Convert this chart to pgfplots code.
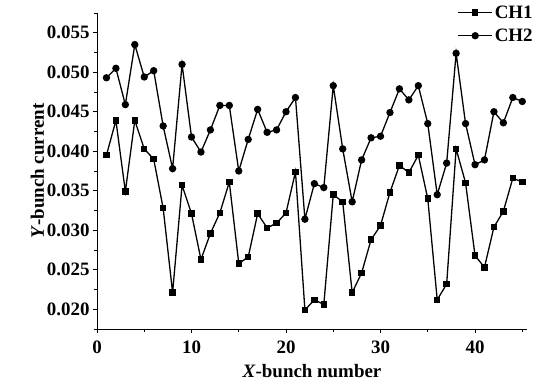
\documentclass[border=0pt]{standalone}
\usepackage{pgfplots}
\pgfplotsset{compat=1.18}
\usepackage{fontspec}
\setmainfont{Liberation Serif}
\begin{document}
\begin{tikzpicture}
\begin{axis}[
  name=ax,
  scale only axis,
  width=430bp, height=316bp,
  xmin=0, xmax=45.5,
  ymin=0.0175, ymax=0.0575,
  axis x line*=bottom, axis y line*=left,
  axis line style={-, line width=1pt},
  xtick={0,10,20,30,40},
  minor xtick={5,15,25,35,45},
  ytick={0.020,0.025,0.030,0.035,0.040,0.045,0.050,0.055},
  minor ytick={0.0175,0.0225,0.0275,0.0325,0.0375,0.0425,0.0475,0.0525,0.0575},
  tick align=outside,
  major tick length=4bp, minor tick length=3bp,
  tick style={black, line width=0.9pt},
  scaled y ticks=false,
  /pgf/number format/assume math mode=true,
  yticklabel style={/pgf/number format/fixed, /pgf/number format/precision=3, /pgf/number format/fixed zerofill},
  xticklabel style={yshift=-4bp},
  tick label style={font=\fontsize{19}{22}\selectfont\bfseries},
  label style={font=\fontsize{19}{22}\selectfont\bfseries},
  xlabel={\textit{X}-bunch number},
  ylabel={\textit{Y}-bunch current},
  xlabel style={yshift=-4bp},
  ylabel style={yshift=-4bp},
  legend style={at={(0.838,1.03)}, anchor=north west, draw=none, fill=none,
    font=\fontsize{19}{22}\selectfont\bfseries, row sep=5bp, inner sep=0pt,
    /tikz/every even column/.append style={column sep=5bp}},
  legend cell align=left,
  legend image code/.code={\draw[mark repeat=2,mark phase=2,#1] plot coordinates {(0bp,0bp) (17bp,0bp) (34bp,0bp)};},
]
\addplot[black, line width=1.3pt, mark=square*, mark size=2.6bp, mark options={solid}] coordinates {
(1,0.0395)(2,0.0439)(3,0.0349)(4,0.0439)(5,0.0403)(6,0.0390)(7,0.0328)(8,0.0221)(9,0.0357)(10,0.0321)
(11,0.0263)(12,0.0296)(13,0.0322)(14,0.0361)(15,0.0258)(16,0.0266)(17,0.0321)(18,0.0303)(19,0.0309)(20,0.0322)
(21,0.0374)(22,0.0199)(23,0.0212)(24,0.0206)(25,0.0345)(26,0.0336)(27,0.0221)(28,0.0246)(29,0.0288)(30,0.0306)
(31,0.0348)(32,0.0382)(33,0.0373)(34,0.0395)(35,0.0340)(36,0.0212)(37,0.0232)(38,0.0403)(39,0.0360)(40,0.0268)
(41,0.0253)(42,0.0304)(43,0.0324)(44,0.0366)(45,0.0361)
};
\addlegendentry{CH1}
\addplot[black, line width=1.3pt, mark=*, mark size=3bp, mark options={solid}] coordinates {
(1,0.0493)(2,0.0505)(3,0.0459)(4,0.0535)(5,0.0494)(6,0.0502)(7,0.0432)(8,0.0378)(9,0.0510)(10,0.0418)
(11,0.0399)(12,0.0427)(13,0.0458)(14,0.0458)(15,0.0375)(16,0.0415)(17,0.0453)(18,0.0424)(19,0.0427)(20,0.0450)
(21,0.0468)(22,0.0314)(23,0.0359)(24,0.0354)(25,0.0483)(26,0.0403)(27,0.0336)(28,0.0389)(29,0.0417)(30,0.0419)
(31,0.0449)(32,0.0479)(33,0.0465)(34,0.0483)(35,0.0435)(36,0.0345)(37,0.0385)(38,0.0524)(39,0.0435)(40,0.0383)
(41,0.0389)(42,0.0450)(43,0.0436)(44,0.0468)(45,0.0463)
};
\addlegendentry{CH2}
\end{axis}
\pgfresetboundingbox
\useasboundingbox ([xshift=-97bp,yshift=-57bp]ax.south west) rectangle ([xshift=436bp,yshift=329bp]ax.south west);
\end{tikzpicture}
\end{document}
